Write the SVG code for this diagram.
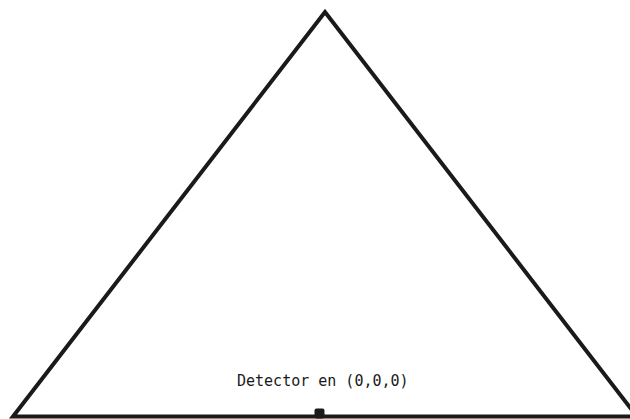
<svg xmlns="http://www.w3.org/2000/svg" width="630" height="419" viewBox="0 0 630 419">
<style>
.edge{fill:none;stroke:#1a1a1a;stroke-width:4;stroke-linejoin:miter}
.lbl{font-family:"DejaVu Sans Mono","Liberation Mono",monospace;font-size:15px;fill:#1a1a1a}
</style>
<rect width="630" height="419" fill="#ffffff"/>
<g id="connectors">
<path class="edge" d="M13,416.5 L325,12 L637,416.5 Z"/>
</g>
<g id="detector">
<rect x="314.5" y="408.5" width="10" height="10" rx="2" fill="#1a1a1a"/>
<text class="lbl" x="237" y="386">Detector en (0,0,0)</text>
</g>
</svg>
